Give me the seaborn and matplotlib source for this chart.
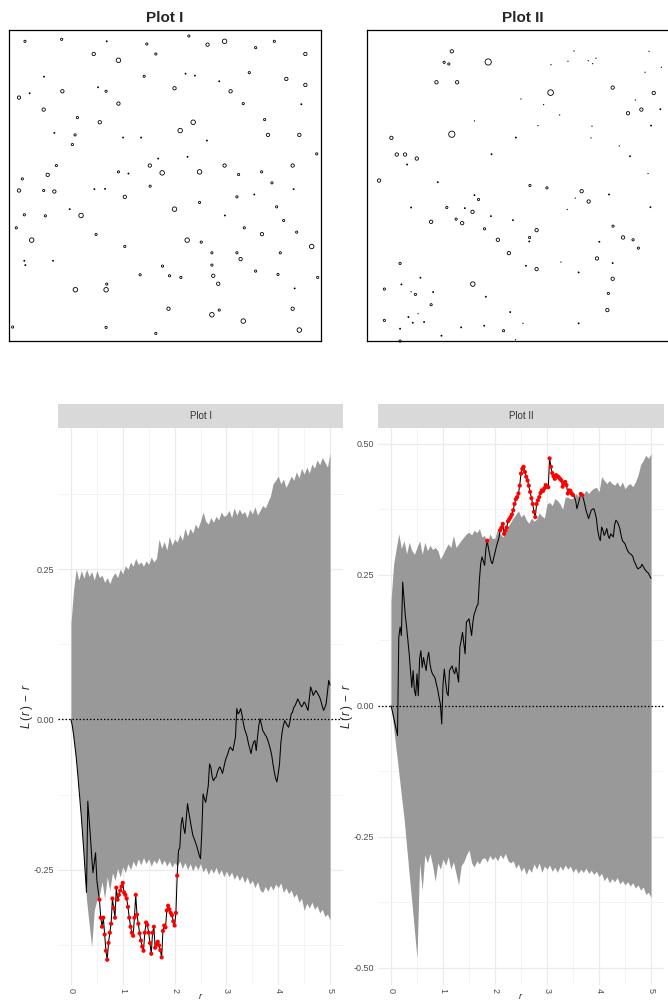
import numpy as np
import pandas as pd
import matplotlib
matplotlib.use("Agg")
import matplotlib.pyplot as plt
import seaborn as sns
from matplotlib.ticker import FixedLocator

# ---------------- point patterns (window 0..933 units square) ----------------
WIN = 933
plot1_x = [47,157,292,412,538,594,645,738,794,253, 327,439,887,104,404,528,556,719,629,830,
           887,61,29,159,266,290,495,663,701,327, 875,103,204,271,551,765,512,135,197,775,
           869,341,395,189,592,921,446,534,141,421, 645,849,39,115,327,357,458,570,687,756,
           29,103,135,255,287,422,787,852,346,570, 682,734,181,495,801,45,108,215,646,822,
           21,704,67,260,533,575,757,861,346,906, 607,682,812,45,48,131,693,459,607,392,
           480,514,611,738,805,924,292,198,290,626, 855,477,849,607,629,701,10,290,439,869]
plot1_y = [899,905,899,891,915,889,899,880,899,861, 842,861,861,793,794,802,796,805,779,786,
           768,743,730,749,761,749,758,749,712,712, 710,694,670,656,656,664,631,624,618,618,
           618,610,610,589,601,561,547,552,526,526, 526,526,486,498,507,502,504,507,499,507,
           451,451,448,455,456,464,474,455,432,415, 432,439,395,395,402,378,375,376,376,361,
           339,339,302,319,302,296,320,326,283,283, 264,264,264,240,227,240,245,224,227,198,
           195,190,195,209,199,190,170,153,153,171, 157,96,96,78,92,59,41,40,22,32]
plot1_mark = [2,2,1,2,2,3,4,2,2,3, 4,2,3,1,2,1,1,2,1,3,
              3,1,3,3,1,2,3,3,2,3, 1,3,2,3,4,2,4,1,2,3,
              3,1,1,2,1,2,1,1,2,3, 3,3,2,3,2,1,4,4,2,2,
              3,2,3,1,1,2,2,1,3,2, 2,1,1,4,2,2,2,4,1,2,
              2,2,4,2,4,2,3,2,2,4, 2,2,2,1,1,1,3,2,2,2,
              2,2,3,2,2,2,2,4,4,3, 1,3,3,4,2,4,2,2,2,4]

plot2_x = [255,364,232,246,209,271,621,552,603,664, 677,687,846,883,834,737,860,551,462,530,
           805,783,823,880,578,323,513,675,852,255, 74,447,672,757,90,115,150,374,789,121,
           843,37,213,489,540,644,726,323,335,625, 665,133,240,294,317,601,850,193,268,286,
           372,438,353,509,738,488,487,393,697,768, 798,814,426,690,582,737,477,509,100,635,
           737,161,104,53,318,133,146,199,357,724, 193,721,430,125,154,53,138,172,100,283,
           352,410,468,635,224,446,100]
plot2_y = [869,837,836,831,776,776,870,829,839,841, 832,848,869,821,806,760,744,745,726,709,
           723,683,694,695,678,660,646,644,646,620, 609,610,609,585,559,559,547,560,554,529,
           502,481,476,466,459,449,439,437,424,428, 418,400,400,398,387,394,401,357,365,353,
           374,362,336,332,344,310,298,303,297,310, 303,278,263,247,236,233,225,215,232,205,
           186,189,169,155,170,147,139,146,132,142, 108,92,86,71,81,61,54,56,36,40,
           45,30,52,52,15,3,-1]
plot2_mark = [3,5.5,2,2,3,3,.5,.5,.5,.5, .5,.5,.5,.5,.5,3,3,5,.5,.5,
              .5,3,3,1,.5,.5,.5,.5,1,5.5, 3,1,.5,.5,3,3,3,1,1,1,
              .5,3,1,2,2,3,1,1,2,.5, 3,1,2,1,3,.5,1,3,2,3,
              1,1,2,3,2,2,1,3,1,3, 2,2,3,3,.5,1,1,3,2,1,
              3,1,1,2,4,.5,2,1,1,2, 2,3,1,1,.5,2,1,1,1,1,
              1,2,.5,1,1,.5,2]

# ---------------- envelopes (r step 0.05) ----------------
r_env = np.round(np.arange(0, 101) * 0.05, 3)
plot1_hi = [0.160,0.215,0.250,0.232,0.248,0.235,0.250,0.238,0.246,0.232,
            0.248,0.236,0.240,0.228,0.236,0.226,0.238,0.244,0.236,0.250,
            0.242,0.256,0.250,0.262,0.255,0.268,0.258,0.262,0.255,0.264,
            0.258,0.270,0.262,0.268,0.300,0.285,0.296,0.282,0.305,0.290,
            0.300,0.295,0.308,0.298,0.318,0.305,0.318,0.310,0.325,0.318,
            0.330,0.345,0.330,0.325,0.336,0.328,0.338,0.332,0.345,0.338,
            0.340,0.348,0.336,0.352,0.340,0.350,0.342,0.346,0.336,0.350,
            0.342,0.354,0.340,0.348,0.356,0.352,0.362,0.372,0.392,0.398,
            0.405,0.392,0.400,0.386,0.395,0.405,0.398,0.412,0.402,0.418,
            0.408,0.420,0.410,0.425,0.418,0.432,0.424,0.436,0.428,0.420,
            0.443]
plot1_lo = [0.000,-0.032,-0.070,-0.118,-0.170,-0.235,-0.300,-0.340,-0.378,-0.318,
            -0.300,-0.292,-0.270,-0.298,-0.262,-0.285,-0.255,-0.268,-0.248,-0.262,
            -0.245,-0.255,-0.240,-0.250,-0.236,-0.245,-0.232,-0.242,-0.230,-0.240,
            -0.232,-0.244,-0.234,-0.240,-0.230,-0.242,-0.234,-0.244,-0.236,-0.246,
            -0.238,-0.244,-0.236,-0.248,-0.238,-0.250,-0.240,-0.252,-0.242,-0.250,
            -0.240,-0.254,-0.246,-0.258,-0.248,-0.256,-0.246,-0.258,-0.250,-0.262,
            -0.252,-0.262,-0.254,-0.266,-0.258,-0.268,-0.260,-0.272,-0.262,-0.274,
            -0.268,-0.280,-0.270,-0.284,-0.288,-0.278,-0.286,-0.276,-0.284,-0.274,
            -0.280,-0.272,-0.288,-0.280,-0.290,-0.284,-0.296,-0.290,-0.304,-0.298,
            -0.318,-0.306,-0.314,-0.304,-0.316,-0.310,-0.322,-0.316,-0.328,-0.324,
            -0.334]
plot2_hi = [0.200,0.270,0.300,0.328,0.300,0.315,0.290,0.312,0.296,0.289,
            0.302,0.315,0.289,0.312,0.296,0.306,0.298,0.302,0.296,0.280,
            0.289,0.300,0.309,0.302,0.325,0.302,0.309,0.316,0.322,0.328,
            0.331,0.326,0.335,0.330,0.338,0.322,0.325,0.310,0.328,0.319,
            0.320,0.338,0.328,0.322,0.330,0.342,0.350,0.358,0.365,0.372,
            0.360,0.366,0.355,0.348,0.358,0.352,0.356,0.368,0.362,0.358,
            0.385,0.388,0.382,0.395,0.392,0.385,0.375,0.398,0.398,0.395,
            0.396,0.405,0.400,0.398,0.404,0.411,0.405,0.411,0.415,0.417,
            0.408,0.437,0.430,0.424,0.430,0.424,0.421,0.427,0.418,0.427,
            0.414,0.421,0.424,0.418,0.427,0.440,0.460,0.468,0.478,0.472,
            0.481]
plot2_lo = [0.000,-0.042,-0.085,-0.128,-0.172,-0.214,-0.268,-0.322,-0.374,-0.428,
            -0.482,-0.300,-0.352,-0.285,-0.300,-0.282,-0.305,-0.335,-0.300,-0.312,
            -0.292,-0.305,-0.288,-0.312,-0.298,-0.320,-0.342,-0.305,-0.298,-0.285,
            -0.275,-0.300,-0.308,-0.296,-0.302,-0.292,-0.290,-0.298,-0.286,-0.294,
            -0.288,-0.296,-0.284,-0.292,-0.282,-0.296,-0.300,-0.296,-0.310,-0.302,
            -0.316,-0.308,-0.322,-0.310,-0.318,-0.302,-0.312,-0.300,-0.318,-0.306,
            -0.312,-0.304,-0.316,-0.308,-0.318,-0.306,-0.314,-0.304,-0.312,-0.306,
            -0.318,-0.310,-0.320,-0.312,-0.318,-0.310,-0.320,-0.314,-0.322,-0.316,
            -0.326,-0.320,-0.334,-0.326,-0.338,-0.330,-0.336,-0.328,-0.340,-0.334,
            -0.342,-0.336,-0.344,-0.338,-0.348,-0.342,-0.352,-0.346,-0.360,-0.356,
            -0.366]

# ---------------- observed L(r) - r (r step 0.025) ----------------
r_obs = np.round(np.arange(0, 201) * 0.025, 4)
plot1_obs = [0.000,-0.010,-0.025,-0.043,-0.062,-0.085,-0.110,-0.136,-0.162,-0.192,
             -0.222,-0.256,-0.288,-0.136,-0.165,-0.195,-0.228,-0.255,-0.238,-0.222,
             -0.268,-0.285,-0.300,-0.330,-0.345,-0.330,-0.358,-0.385,-0.400,-0.372,
             -0.355,-0.340,-0.298,-0.314,-0.330,-0.280,-0.300,-0.292,-0.285,-0.278,
             -0.272,-0.288,-0.292,-0.298,-0.312,-0.330,-0.345,-0.355,-0.360,-0.330,
             -0.292,-0.325,-0.340,-0.356,-0.368,-0.378,-0.385,-0.355,-0.338,-0.342,
             -0.355,-0.372,-0.390,-0.355,-0.345,-0.380,-0.374,-0.370,-0.376,-0.384,
             -0.396,-0.352,-0.343,-0.346,-0.318,-0.310,-0.316,-0.322,-0.326,-0.336,
             -0.343,-0.322,-0.260,-0.218,-0.214,-0.175,-0.163,-0.180,-0.190,-0.165,
             -0.140,-0.155,-0.168,-0.180,-0.192,-0.198,-0.204,-0.210,-0.218,-0.226,
             -0.232,-0.188,-0.124,-0.132,-0.138,-0.125,-0.110,-0.074,-0.080,-0.095,
             -0.102,-0.098,-0.096,-0.088,-0.082,-0.079,-0.084,-0.090,-0.080,-0.070,
             -0.063,-0.058,-0.050,-0.046,-0.049,-0.052,-0.040,-0.029,0.018,0.009,
             0.012,0.018,0.008,-0.005,-0.016,-0.022,-0.029,-0.040,-0.048,-0.057,
             -0.045,-0.038,-0.035,-0.052,-0.030,-0.010,0.001,-0.008,-0.018,-0.022,
             -0.026,-0.029,-0.035,-0.042,-0.050,-0.060,-0.075,-0.088,-0.098,-0.104,
             -0.090,-0.074,-0.040,-0.021,-0.010,-0.002,-0.006,-0.010,-0.013,-0.004,
             0.009,0.012,0.020,0.023,0.028,0.034,0.030,0.025,0.021,0.024,
             0.029,0.026,0.020,0.015,0.035,0.054,0.048,0.040,0.044,0.048,
             0.045,0.041,0.037,0.030,0.022,0.015,0.020,0.026,0.045,0.065,
             0.057]
plot2_obs = [0.000,-0.010,-0.022,-0.034,-0.046,-0.057,0.131,0.150,0.134,0.236,
             0.205,0.172,0.150,0.125,0.099,0.068,0.035,0.067,0.030,0.019,
             0.061,0.019,0.090,0.105,0.073,0.092,0.080,0.067,0.090,0.102,
             0.080,0.067,0.060,0.057,0.052,0.040,0.030,0.015,0.003,-0.035,
             0.040,0.070,0.045,0.025,0.019,0.067,0.072,0.076,0.066,0.061,
             0.073,0.060,0.045,0.112,0.125,0.140,0.120,0.099,0.160,0.162,
             0.166,0.150,0.134,0.160,0.175,0.182,0.190,0.194,0.240,0.271,
             0.284,0.276,0.268,0.300,0.315,0.300,0.288,0.275,0.271,0.282,
             0.292,0.303,0.312,0.320,0.335,0.340,0.347,0.328,0.334,0.340,
             0.352,0.356,0.360,0.365,0.373,0.385,0.394,0.398,0.405,0.420,
             0.443,0.452,0.456,0.446,0.437,0.430,0.420,0.408,0.396,0.385,
             0.370,0.360,0.385,0.392,0.398,0.406,0.411,0.410,0.415,0.421,
             0.418,0.417,0.472,0.456,0.444,0.438,0.433,0.440,0.438,0.436,
             0.433,0.430,0.418,0.424,0.427,0.421,0.405,0.411,0.410,0.405,
             0.402,0.398,0.392,0.376,0.385,0.395,0.404,0.402,0.395,0.385,
             0.373,0.365,0.357,0.365,0.373,0.375,0.376,0.368,0.357,0.335,
             0.322,0.315,0.341,0.335,0.325,0.330,0.338,0.325,0.319,0.328,
             0.325,0.322,0.345,0.354,0.351,0.346,0.338,0.325,0.315,0.312,
             0.309,0.302,0.296,0.292,0.290,0.288,0.285,0.276,0.271,0.265,
             0.261,0.263,0.264,0.270,0.266,0.261,0.258,0.255,0.253,0.248,
             0.243]

panel_titles = ["Plot I", "Plot II"]

# ---------------- styling ----------------
sns.set_style("white")
plt.rcParams["font.family"] = ["Liberation Sans", "DejaVu Sans"]
plt.rcParams["mathtext.fontset"] = "custom"
plt.rcParams["mathtext.it"] = "Liberation Sans:italic"
plt.rcParams["mathtext.rm"] = "Liberation Sans"
NARROW = ["Liberation Sans Narrow", "Liberation Sans", "DejaVu Sans"]

W, H = 668, 1002
fig = plt.figure(figsize=(W / 100, H / 100), dpi=100)


def box(x0, y0, x1, y1):
    return [x0 / W, 1 - y1 / H, (x1 - x0) / W, (y1 - y0) / H]


def area(m):
    d_px = 1.15 * m - 0.1
    return (d_px * 0.72) ** 2


def pattern(rect, title, xs, ys, marks):
    ax = fig.add_axes(rect)
    df = pd.DataFrame({"x": xs, "y": ys, "mark": marks})
    sizes = {m: area(m) for m in sorted(set(marks))}
    sns.scatterplot(data=df, x="x", y="y", size="mark", sizes=sizes, ax=ax,
                    legend=False, facecolor="none", edgecolor="black",
                    linewidth=0.6, clip_on=False)
    ax.set_xlim(0, WIN)
    ax.set_ylim(0, WIN)
    ax.set_xticks([])
    ax.set_yticks([])
    ax.set_xlabel("")
    ax.set_ylabel("")
    for s in ax.spines.values():
        s.set_visible(True)
        s.set_color("black")
        s.set_linewidth(0.9)
    ax.set_title(title, fontweight="bold", fontsize=11, pad=6)


pattern(box(9.3, 30, 320.7, 340.7), panel_titles[0], plot1_x, plot1_y, plot1_mark)
pattern(box(366.7, 30, 678.1, 340.7), panel_titles[1], plot2_x, plot2_y, plot2_mark)


def envelope_panel(px, title, hi, lo, obs, ylim, yticks, yminor):
    x0, x1 = px
    ax = fig.add_axes(box(x0, 428, x1, 985))
    ax.set_facecolor("white")
    ax.set_axisbelow(True)
    ax.xaxis.set_major_locator(FixedLocator([0, 1, 2, 3, 4, 5]))
    ax.xaxis.set_minor_locator(FixedLocator([0.5, 1.5, 2.5, 3.5, 4.5]))
    ax.yaxis.set_major_locator(FixedLocator(yticks))
    ax.yaxis.set_minor_locator(FixedLocator(yminor))
    ax.grid(which="major", color="#EBEBEB", lw=0.9)
    ax.grid(which="minor", color="#F3F3F3", lw=0.6)
    for s in ax.spines.values():
        s.set_visible(False)

    hi = np.array(hi)
    lo = np.array(lo)
    obs = np.array(obs)
    ax.fill_between(r_env, lo, hi, color="#999999", lw=0, zorder=1)
    ax.axhline(0, color="black", ls=(0, (1.2, 1.6)), lw=0.9, zorder=2)
    sns.lineplot(x=r_obs, y=obs, ax=ax, color="black", lw=0.75,
                 estimator=None, sort=False, zorder=3)
    hi_o = np.interp(r_obs, r_env, hi)
    lo_o = np.interp(r_obs, r_env, lo)
    out = (obs > hi_o) | (obs < lo_o)
    sns.scatterplot(x=r_obs[out], y=obs[out], ax=ax, color="#FF0000", s=9,
                    edgecolor="none", linewidth=0, zorder=4)

    ax.set_xlim(-0.25, 5.25)
    ax.set_ylim(*ylim)
    ax.set_xticklabels(["0", "1", "2", "3", "4", "5"])
    ax.set_yticklabels([f"{v:.2f}" for v in yticks])
    ax.tick_params(axis="both", which="both", length=0, labelsize=6.5,
                   labelcolor="#4D4D4D")
    ax.tick_params(axis="y", pad=3)
    ax.tick_params(axis="x", pad=2)
    for lab in ax.get_xticklabels():
        lab.set_rotation(-90)
        lab.set_fontfamily(NARROW)
    for lab in ax.get_yticklabels():
        lab.set_fontfamily(NARROW)
    ax.set_xlabel("$r$", fontsize=6.5, labelpad=-1)
    ax.set_ylabel(r"$L\,(\,r\,)\;-\;r$", fontsize=8.5)
    ax.yaxis.set_label_coords(-0.08, 0.5)

    sax = fig.add_axes(box(x0, 404, x1, 428))
    sax.set_facecolor("#D9D9D9")
    sax.set_xticks([])
    sax.set_yticks([])
    for s in sax.spines.values():
        s.set_visible(False)
    sax.text(0.5, 0.5, title, ha="center", va="center", fontsize=7,
             color="#333333", family=NARROW, transform=sax.transAxes)


envelope_panel((58, 343), panel_titles[0], plot1_hi, plot1_lo, plot1_obs,
               (-0.442, 0.485), [-0.25, 0.0, 0.25], [-0.375, -0.125, 0.125, 0.375])
envelope_panel((378, 664), panel_titles[1], plot2_hi, plot2_lo, plot2_obs,
               (-0.533, 0.530), [-0.5, -0.25, 0.0, 0.25, 0.5],
               [-0.375, -0.125, 0.125, 0.375])

fig.savefig("out.png", dpi=100)
